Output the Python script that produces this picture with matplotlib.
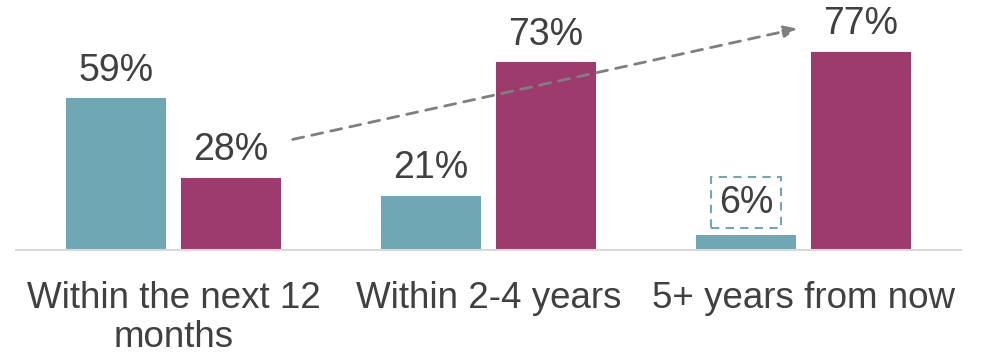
import matplotlib
matplotlib.use('Agg')
import matplotlib.pyplot as plt
import numpy as np

plt.rcParams['font.family'] = ['Liberation Sans', 'DejaVu Sans']

# Data
categories = ['Within the next 12\nmonths', 'Within 2-4 years', '5+ years from now']
series_a = [59, 21, 6]
series_b = [28, 73, 77]

TEAL = '#6FA8B4'
PLUM = '#9E3B6E'
TEXT = '#404040'

fig = plt.figure(figsize=(9.82, 3.53), dpi=100)
# axes placed so the baseline sits at y=250 px and spans x=16..961 px
ax = fig.add_axes([16 / 982, (353 - 250) / 353, 945 / 982, 250 / 353])

x = np.arange(len(categories))
w = 100 / 315
off = 57.5 / 315
bars_a = ax.bar(x - off, series_a, w, color=TEAL)
bars_b = ax.bar(x + off, series_b, w, color=PLUM)

ax.set_xlim(-0.5, 2.5)
ax.set_ylim(0, 250 / 2.57)

for bars, vals in ((bars_a, series_a), (bars_b, series_b)):
    for b, v in zip(bars, vals):
        cx = b.get_x() + b.get_width() / 2
        if v == 6:
            ax.annotate(f'{v}%', (cx, v), xytext=(0, 10), textcoords='offset points',
                        ha='center', va='bottom', fontsize=27, color=TEXT,
                        bbox=dict(boxstyle='square,pad=0.2', fc='none', ec=TEAL,
                                  ls=(0, (4, 3)), lw=1.5))
        else:
            ax.annotate(f'{v}%', (cx, v), xytext=(0, 7), textcoords='offset points',
                        ha='center', va='bottom', fontsize=27, color=TEXT)

# dashed trend arrow
ax.annotate('', xy=(1.989, 86.4), xytext=(0.37, 42.8),
            arrowprops=dict(arrowstyle='-|>,head_length=0.8,head_width=0.35',
                            color='#7f7f7f', lw=2, ls=(0, (4, 3))))

ax.set_xticks(x)
ax.set_xticklabels(categories, fontsize=26.5, color=TEXT, linespacing=1.15)
ax.tick_params(axis='x', length=0, pad=22)
ax.set_yticks([])
for s in ('top', 'right', 'left'):
    ax.spines[s].set_visible(False)
ax.spines['bottom'].set_color('#d9d9d9')
ax.spines['bottom'].set_linewidth(1.5)

fig.savefig('out.png', dpi=100)
